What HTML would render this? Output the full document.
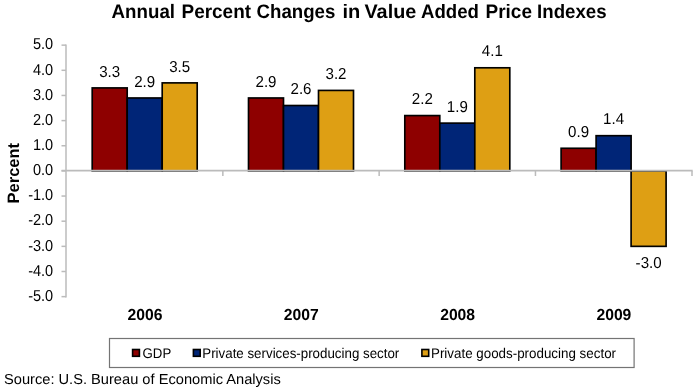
<!DOCTYPE html><html><head><meta charset="utf-8"><style>html,body{margin:0;padding:0;background:#fff;width:700px;height:388px;overflow:hidden}svg{display:block;will-change:transform}text{font-family:"Liberation Sans",sans-serif;fill:#000;text-rendering:geometricPrecision}</style></head><body>
<svg width="700" height="388" viewBox="0 0 700 388">
<text transform="translate(111.62,17.90) scale(0.959,1)" text-anchor="start" font-size="19.5" font-weight="bold">Annual</text>
<text transform="translate(181.54,17.90) scale(0.971,1)" text-anchor="start" font-size="19.5" font-weight="bold">Percent</text>
<text transform="translate(256.57,17.90) scale(0.956,1)" text-anchor="start" font-size="19.5" font-weight="bold">Changes</text>
<text transform="translate(342.46,17.90) scale(1.029,1)" text-anchor="start" font-size="19.5" font-weight="bold">in</text>
<text transform="translate(364.49,17.90) scale(1.016,1)" text-anchor="start" font-size="19.5" font-weight="bold">Value</text>
<text transform="translate(421.02,17.90) scale(0.954,1)" text-anchor="start" font-size="19.5" font-weight="bold">Added</text>
<text transform="translate(485.54,17.90) scale(0.973,1)" text-anchor="start" font-size="19.5" font-weight="bold">Price</text>
<text transform="translate(537.06,17.90) scale(0.957,1)" text-anchor="start" font-size="19.5" font-weight="bold">Indexes</text>
<text transform="translate(18.9,173.2) rotate(-90)" text-anchor="middle" font-size="16.5" font-weight="bold">Percent</text>
<text transform="translate(53.20,49.35) scale(0.920,1)" text-anchor="end" font-size="15.8">5.0</text>
<line x1="61.5" y1="45.15" x2="66" y2="45.15" stroke="#BBBBBB" stroke-width="1.5"/>
<text transform="translate(53.20,74.50) scale(0.920,1)" text-anchor="end" font-size="15.8">4.0</text>
<line x1="61.5" y1="70.30" x2="66" y2="70.30" stroke="#BBBBBB" stroke-width="1.5"/>
<text transform="translate(53.20,99.65) scale(0.920,1)" text-anchor="end" font-size="15.8">3.0</text>
<line x1="61.5" y1="95.45" x2="66" y2="95.45" stroke="#BBBBBB" stroke-width="1.5"/>
<text transform="translate(53.20,124.80) scale(0.920,1)" text-anchor="end" font-size="15.8">2.0</text>
<line x1="61.5" y1="120.60" x2="66" y2="120.60" stroke="#BBBBBB" stroke-width="1.5"/>
<text transform="translate(53.20,149.95) scale(0.920,1)" text-anchor="end" font-size="15.8">1.0</text>
<line x1="61.5" y1="145.75" x2="66" y2="145.75" stroke="#BBBBBB" stroke-width="1.5"/>
<text transform="translate(53.20,175.10) scale(0.920,1)" text-anchor="end" font-size="15.8">0.0</text>
<line x1="61.5" y1="170.90" x2="66" y2="170.90" stroke="#BBBBBB" stroke-width="1.5"/>
<text transform="translate(53.20,200.25) scale(0.920,1)" text-anchor="end" font-size="15.8">-1.0</text>
<line x1="61.5" y1="196.05" x2="66" y2="196.05" stroke="#BBBBBB" stroke-width="1.5"/>
<text transform="translate(53.20,225.40) scale(0.920,1)" text-anchor="end" font-size="15.8">-2.0</text>
<line x1="61.5" y1="221.20" x2="66" y2="221.20" stroke="#BBBBBB" stroke-width="1.5"/>
<text transform="translate(53.20,250.55) scale(0.920,1)" text-anchor="end" font-size="15.8">-3.0</text>
<line x1="61.5" y1="246.35" x2="66" y2="246.35" stroke="#BBBBBB" stroke-width="1.5"/>
<text transform="translate(53.20,275.70) scale(0.920,1)" text-anchor="end" font-size="15.8">-4.0</text>
<line x1="61.5" y1="271.50" x2="66" y2="271.50" stroke="#BBBBBB" stroke-width="1.5"/>
<text transform="translate(53.20,300.85) scale(0.920,1)" text-anchor="end" font-size="15.8">-5.0</text>
<line x1="61.5" y1="296.65" x2="66" y2="296.65" stroke="#BBBBBB" stroke-width="1.5"/>
<line x1="66" y1="44.40" x2="66" y2="297.40" stroke="#BBBBBB" stroke-width="1.5"/>
<line x1="222.85" y1="170.90" x2="222.85" y2="176" stroke="#BBBBBB" stroke-width="1.5"/>
<line x1="379.15" y1="170.90" x2="379.15" y2="176" stroke="#BBBBBB" stroke-width="1.5"/>
<line x1="535.45" y1="170.90" x2="535.45" y2="176" stroke="#BBBBBB" stroke-width="1.5"/>
<line x1="692.00" y1="170.90" x2="692.00" y2="176" stroke="#BBBBBB" stroke-width="1.5"/>
<rect x="92.20" y="87.91" width="35.00" height="82.99" fill="#8E0000" stroke="#000" stroke-width="1.65"/>
<text transform="translate(109.70,76.61) scale(0.955,1)" text-anchor="middle" font-size="15.8">3.3</text>
<rect x="127.20" y="97.97" width="35.00" height="72.93" fill="#002577" stroke="#000" stroke-width="1.65"/>
<text transform="translate(144.70,86.67) scale(0.955,1)" text-anchor="middle" font-size="15.8">2.9</text>
<rect x="162.20" y="82.88" width="35.00" height="88.02" fill="#DE9F14" stroke="#000" stroke-width="1.65"/>
<text transform="translate(179.70,71.58) scale(0.955,1)" text-anchor="middle" font-size="15.8">3.5</text>
<text transform="translate(145.00,320.00) scale(0.980,1)" text-anchor="middle" font-size="16" font-weight="bold">2006</text>
<rect x="248.50" y="97.97" width="35.00" height="72.93" fill="#8E0000" stroke="#000" stroke-width="1.65"/>
<text transform="translate(266.00,86.67) scale(0.955,1)" text-anchor="middle" font-size="15.8">2.9</text>
<rect x="283.50" y="105.51" width="35.00" height="65.39" fill="#002577" stroke="#000" stroke-width="1.65"/>
<text transform="translate(301.00,94.21) scale(0.955,1)" text-anchor="middle" font-size="15.8">2.6</text>
<rect x="318.50" y="90.42" width="35.00" height="80.48" fill="#DE9F14" stroke="#000" stroke-width="1.65"/>
<text transform="translate(336.00,79.12) scale(0.955,1)" text-anchor="middle" font-size="15.8">3.2</text>
<text transform="translate(301.30,320.00) scale(0.980,1)" text-anchor="middle" font-size="16" font-weight="bold">2007</text>
<rect x="404.80" y="115.57" width="35.00" height="55.33" fill="#8E0000" stroke="#000" stroke-width="1.65"/>
<text transform="translate(422.30,104.27) scale(0.955,1)" text-anchor="middle" font-size="15.8">2.2</text>
<rect x="439.80" y="123.12" width="35.00" height="47.78" fill="#002577" stroke="#000" stroke-width="1.65"/>
<text transform="translate(457.30,111.82) scale(0.955,1)" text-anchor="middle" font-size="15.8">1.9</text>
<rect x="474.80" y="67.79" width="35.00" height="103.11" fill="#DE9F14" stroke="#000" stroke-width="1.65"/>
<text transform="translate(492.30,56.49) scale(0.955,1)" text-anchor="middle" font-size="15.8">4.1</text>
<text transform="translate(457.60,320.00) scale(0.980,1)" text-anchor="middle" font-size="16" font-weight="bold">2008</text>
<rect x="561.10" y="148.27" width="35.00" height="22.63" fill="#8E0000" stroke="#000" stroke-width="1.65"/>
<text transform="translate(578.60,136.97) scale(0.955,1)" text-anchor="middle" font-size="15.8">0.9</text>
<rect x="596.10" y="135.69" width="35.00" height="35.21" fill="#002577" stroke="#000" stroke-width="1.65"/>
<text transform="translate(613.60,124.39) scale(0.955,1)" text-anchor="middle" font-size="15.8">1.4</text>
<rect x="631.10" y="170.90" width="35.00" height="75.45" fill="#DE9F14" stroke="#000" stroke-width="1.65"/>
<text transform="translate(648.60,267.75) scale(0.955,1)" text-anchor="middle" font-size="15.8">-3.0</text>
<text transform="translate(613.90,320.00) scale(0.980,1)" text-anchor="middle" font-size="16" font-weight="bold">2009</text>
<line x1="61.5" y1="170.70" x2="692.7" y2="170.70" stroke="#BBBBBB" stroke-width="1.7"/>
<rect x="109.5" y="338.5" width="524.6" height="29" fill="#fff" stroke="#747474" stroke-width="1.2"/>
<rect x="132.6" y="349.5" width="6.8" height="6.8" fill="#8E0000" stroke="#000" stroke-width="1.6"/>
<text transform="translate(142.53,357.60) scale(0.945,1)" text-anchor="start" font-size="14">GDP</text>
<rect x="193.4" y="349.5" width="6.8" height="6.8" fill="#002577" stroke="#000" stroke-width="1.6"/>
<text transform="translate(202.27,357.60) scale(0.952,1)" text-anchor="start" font-size="14">Private services-producing sector</text>
<rect x="421.9" y="349.5" width="6.8" height="6.8" fill="#DE9F14" stroke="#000" stroke-width="1.6"/>
<text transform="translate(430.97,357.60) scale(0.955,1)" text-anchor="start" font-size="14">Private goods-producing sector</text>
<text transform="translate(3.99,384.10) scale(1.010,1)" text-anchor="start" font-size="14.5">Source: U.S. Bureau of Economic Analysis</text>
</svg></body></html>
